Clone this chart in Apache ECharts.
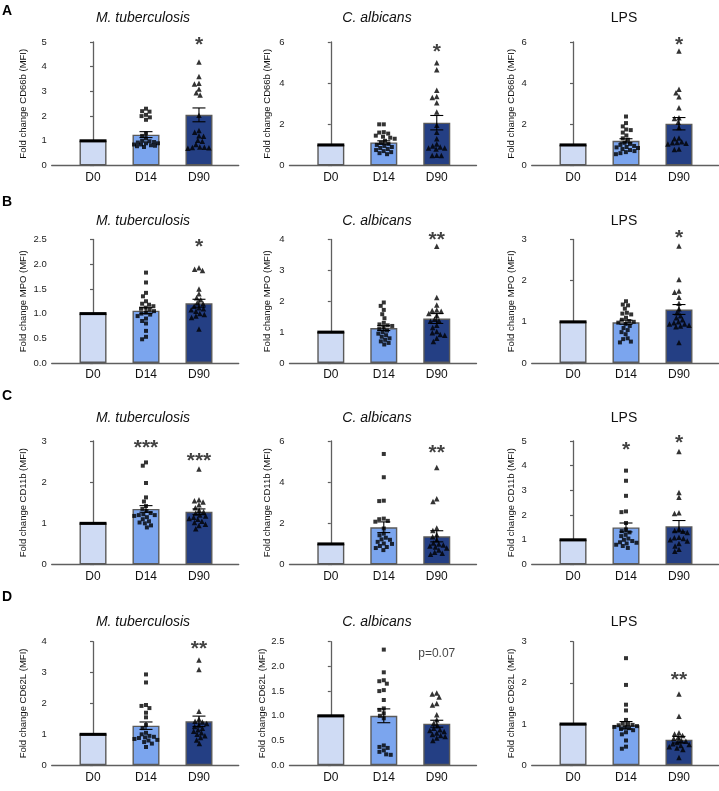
<!DOCTYPE html>
<html><head><meta charset="utf-8">
<script src="https://cdn.jsdelivr.net/npm/echarts@6/dist/echarts.min.js"></script>
<style>html,body{margin:0;padding:0;background:#fff}#c{width:719px;height:791px}</style>
</head><body><div id="c"></div>
<script>
// ---------- DATA ----------
const groups = ['D0', 'D14', 'D90'];
const pathogens = ['M. tuberculosis', 'C. albicans', 'LPS'];
const markers = ['CD66b', 'MPO', 'CD11b', 'CD62L'];
const panelLetters = ['A', 'B', 'C', 'D'];
const yMaxByRow = [[5, 6, 6], [2.5, 4, 3], [3, 6, 5], [4, 2.5, 3]];
const yStepByRow = [[1, 2, 2], [0.5, 1, 1], [1, 2, 1], [1, 0.5, 1]];

// bar heights (mean) and SEM per pathogen: [D0, D14, D90]
const mean_CD66b = [[1, 1.25, 2.05], [1, 1.12, 2.08], [1, 1.2, 2.03]];
const sem_CD66b  = [[0, 0.12, 0.28], [0, 0.08, 0.35], [0, 0.1, 0.3]];
const mean_MPO   = [[1, 1.06, 1.21], [1, 1.13, 1.44], [1, 0.99, 1.3]];
const sem_MPO    = [[0, 0.06, 0.08], [0, 0.08, 0.16], [0, 0.05, 0.12]];
const mean_CD11b = [[1, 1.35, 1.28], [1, 1.81, 1.37], [1, 1.5, 1.55]];
const sem_CD11b  = [[0, 0.08, 0.07], [0, 0.26, 0.27], [0, 0.18, 0.23]];
const mean_CD62L = [[1, 1.28, 1.42], [1, 1.0, 0.84], [1, 0.97, 0.62]];
const sem_CD62L  = [[0, 0.12, 0.17], [0, 0.14, 0.07], [0, 0.09, 0.08]];

// individual donors (D0 are all 1.0 by normalisation)
const cd66b_mtb_D14 = [2.3,2.2,2.18,2.05,2.0,1.95,1.85,1.3,1.2,1.1,1.0,0.98,0.95,0.93,0.9,0.9,0.85,0.85,0.82,0.8,0.78,0.75];
const cd66b_mtb_D90 = [4.19,3.6,3.33,3.3,3.1,2.95,2.85,2.03,1.42,1.35,1.2,1.18,1.02,0.98,0.85,0.75,0.74,0.73,0.72,0.7];
const cd66b_cal_D14 = [2.0,2.0,1.62,1.6,1.55,1.45,1.4,1.35,1.3,1.2,1.1,1.05,1.0,0.95,0.9,0.85,0.8,0.75,0.7,0.65,0.6,0.55];
const cd66b_cal_D90 = [4.99,4.65,3.65,3.35,3.3,3.05,2.6,1.95,1.62,1.3,1.05,0.95,0.9,0.85,0.85,0.8,0.5,0.49,0.48];
const cd66b_lps_D14 = [2.38,2.06,1.9,1.75,1.72,1.6,1.46,1.32,1.25,1.1,1.05,1.0,0.95,0.9,0.88,0.85,0.8,0.75,0.7,0.65,0.6,0.55];
const cd66b_lps_D90 = [5.56,3.7,3.53,3.34,2.8,2.32,2.28,2.1,1.85,1.33,1.3,1.15,1.12,1.1,1.08,1.05,0.8,0.78];

const mpo_mtb_D14 = [1.83,1.63,1.42,1.35,1.25,1.2,1.18,1.15,1.12,1.1,1.08,1.05,1.02,1.0,0.98,0.95,0.9,0.85,0.8,0.65,0.53,0.48];
const mpo_mtb_D90 = [1.93,1.9,1.87,1.5,1.4,1.32,1.28,1.22,1.2,1.15,1.12,1.1,1.08,1.05,1.0,0.98,0.95,0.92,0.69];
const mpo_cal_D14 = [1.96,1.85,1.72,1.58,1.45,1.3,1.25,1.22,1.2,1.15,1.1,1.05,1.0,0.95,0.9,0.85,0.8,0.75,0.7,0.65,0.6];
const mpo_cal_D90 = [3.78,2.12,1.88,1.72,1.7,1.68,1.6,1.55,1.42,1.38,1.35,1.22,1.15,1.02,0.98,0.92,0.9,0.8,0.7];
const mpo_lps_D14 = [1.5,1.42,1.4,1.32,1.22,1.2,1.18,1.1,1.05,1.02,1.0,0.98,0.95,0.9,0.85,0.8,0.75,0.7,0.6,0.58,0.52,0.5];
const mpo_lps_D90 = [2.84,2.03,1.75,1.72,1.6,1.45,1.32,1.22,1.15,1.1,1.05,1.0,0.98,0.95,0.95,0.92,0.9,0.88,0.5];

const cd11b_mtb_D14 = [2.48,2.4,1.98,1.63,1.53,1.42,1.35,1.3,1.25,1.22,1.2,1.2,1.18,1.15,1.1,1.05,1.02,1.0,0.95,0.9];
const cd11b_mtb_D90 = [2.32,1.57,1.55,1.52,1.45,1.38,1.32,1.28,1.25,1.2,1.18,1.15,1.12,1.1,1.05,1.02,0.98,0.95,0.87];
const cd11b_cal_D14 = [5.37,4.24,3.1,3.08,2.23,2.2,2.12,2.08,1.75,1.5,1.42,1.3,1.22,1.2,1.1,1.02,1.0,0.9,0.85,0.8,0.7];
const cd11b_cal_D90 = [4.71,3.19,3.06,1.77,1.65,1.45,1.35,1.2,1.05,1.0,0.95,0.9,0.85,0.8,0.7,0.6,0.55,0.5];
const cd11b_lps_D14 = [3.8,3.39,2.78,2.15,2.12,1.68,1.42,1.35,1.3,1.2,1.15,1.05,1.0,0.95,0.9,0.88,0.85,0.8,0.75,0.67];
const cd11b_lps_D90 = [4.57,2.92,2.72,2.1,2.06,1.45,1.38,1.35,1.3,1.1,1.08,1.05,1.0,0.95,0.85,0.75,0.62,0.54];

const cd62l_mtb_D14 = [2.94,2.68,1.95,1.92,1.85,1.7,1.55,1.3,1.2,1.05,1.0,0.95,0.92,0.9,0.88,0.85,0.82,0.8,0.75,0.7,0.59];
const cd62l_mtb_D90 = [3.41,3.1,1.75,1.5,1.42,1.4,1.35,1.3,1.25,1.2,1.15,1.1,1.05,1.0,0.95,0.9,0.82,0.7];
const cd62l_cal_D14 = [2.34,1.88,1.72,1.7,1.65,1.52,1.5,1.32,1.15,1.12,1.05,1.0,0.95,0.4,0.37,0.35,0.3,0.27,0.22,0.21];
const cd62l_cal_D90 = [1.46,1.44,1.38,1.25,1.22,1.02,0.92,0.85,0.8,0.75,0.72,0.7,0.68,0.65,0.62,0.6,0.58,0.55,0.5];
const cd62l_lps_D14 = [2.6,1.95,1.47,1.33,1.1,1.02,1.0,0.98,0.97,0.95,0.93,0.92,0.9,0.88,0.85,0.8,0.75,0.6,0.45,0.4];
const cd62l_lps_D90 = [1.73,1.19,0.79,0.76,0.72,0.68,0.65,0.6,0.58,0.55,0.52,0.5,0.48,0.45,0.42,0.38,0.19];

// significance labels [pathogen][group] and the value at which each sits
const sigText_CD66b = [['', '', '*'], ['', '', '*'], ['', '', '*']];
const sigY_CD66b    = [[0, 0, 5.07], [0, 0, 5.75], [0, 0, 6.11]];
const sigText_MPO   = [['', '', '*'], ['', '', '**'], ['', '', '*']];
const sigY_MPO      = [[0, 0, 2.45], [0, 0, 4.14], [0, 0, 3.15]];
const sigText_CD11b = [['', '***', '***'], ['', '', '**'], ['', '*', '*']];
const sigY_CD11b    = [[0, 2.94, 2.64], [0, 0, 5.65], [0, 4.81, 5.1]];
const sigText_CD62L = [['', '', '**'], ['', '', 'p=0.07'], ['', '', '**']];
const sigY_CD62L    = [[0, 0, 3.91], [0, 0, 2.26], [0, 0, 2.19]];

// ---------- ASSEMBLY ----------
const rows = [
  { mean: mean_CD66b, sem: sem_CD66b, sigT: sigText_CD66b, sigY: sigY_CD66b,
    pts: [[cd66b_mtb_D14, cd66b_mtb_D90], [cd66b_cal_D14, cd66b_cal_D90], [cd66b_lps_D14, cd66b_lps_D90]] },
  { mean: mean_MPO, sem: sem_MPO, sigT: sigText_MPO, sigY: sigY_MPO,
    pts: [[mpo_mtb_D14, mpo_mtb_D90], [mpo_cal_D14, mpo_cal_D90], [mpo_lps_D14, mpo_lps_D90]] },
  { mean: mean_CD11b, sem: sem_CD11b, sigT: sigText_CD11b, sigY: sigY_CD11b,
    pts: [[cd11b_mtb_D14, cd11b_mtb_D90], [cd11b_cal_D14, cd11b_cal_D90], [cd11b_lps_D14, cd11b_lps_D90]] },
  { mean: mean_CD62L, sem: sem_CD62L, sigT: sigText_CD62L, sigY: sigY_CD62L,
    pts: [[cd62l_mtb_D14, cd62l_mtb_D90], [cd62l_cal_D14, cd62l_cal_D90], [cd62l_lps_D14, cd62l_lps_D90]] }
];

const FONT = '"Liberation Sans", Arial, Helvetica, sans-serif';
const LEFT = [51.7, 289.5, 531.7];
const TOP = [42, 239.5, 441, 641.7];
const GW = 187, GH = 123.5, XMIN = -0.78, XMAX = 2.75;
const TITLE_X = [143, 377, 624];
const TITLE_Y = [18.3, 220.7, 418.3, 621.7];
const LETTER_Y = [12.5, 203, 397, 598];
const NAME_GAP = [23, 17, 15.5];
const BAR_COLORS = ['#cfdbf4', '#7ba5ee', '#243f84'];
const AXIS_COLOR = '#5f5f5f';
const BAR_W = 27;

// deterministic beeswarm offsets (in x-axis units), limited to the bar width
function swarm(values, pxX, pxY, d, maxHalf) {
  const order = values.map((v, i) => i).sort((a, b) => values[b] - values[a]);
  const placed = [], out = [];
  for (const i of order) {
    const y = values[i] * pxY;
    const cands = [0];
    for (const p of placed) {
      const dy = Math.abs(p.y - y);
      if (dy < d) { const dx = Math.sqrt(d * d - dy * dy); cands.push(p.x + dx, p.x - dx); }
    }
    cands.sort((a, b) => Math.abs(a) - Math.abs(b) || a - b);
    let xx = null;
    for (const cx of cands) {
      if (Math.abs(cx) > maxHalf) continue;
      if (placed.every(p => (p.x - cx) ** 2 + (p.y - y) ** 2 >= d * d - 1e-6)) { xx = cx; break; }
    }
    if (xx === null) {
      let best = 0, bestScore = -1;
      for (let cx = -maxHalf; cx <= maxHalf; cx += 1) {
        const m = Math.min(...placed.map(p => (p.x - cx) ** 2 + (p.y - y) ** 2));
        if (m > bestScore) { bestScore = m; best = cx; }
      }
      xx = best;
    }
    placed.push({ x: xx, y });
    out[i] = xx / pxX;
  }
  return out;
}

const grid = [], xAxis = [], yAxis = [], series = [], graphic = [];
const pxX = GW / (XMAX - XMIN);

rows.forEach((row, r) => {
  graphic.push({ type: 'text', left: 2, top: LETTER_Y[r] - 8,
    style: { text: panelLetters[r], font: 'bold 14px ' + FONT, fill: '#000' } });
  for (let c = 0; c < 3; c++) {
    const k = r * 3 + c;
    const yMax = yMaxByRow[r][c], step = yStepByRow[r][c];
    grid.push({ left: LEFT[c], top: TOP[r], width: GW, height: GH });
    xAxis.push({
      type: 'value', gridIndex: k, min: XMIN, max: XMAX,
      splitLine: { show: false },
      axisLine: { show: true, onZero: false, lineStyle: { color: AXIS_COLOR, width: 1.3 } },
      axisTick: { show: false },
      axisLabel: { customValues: [0, 1, 2], formatter: v => groups[Math.round(v)],
        fontSize: 12, fontFamily: FONT, color: '#111', margin: 6 }
    });
    yAxis.push({
      type: 'value', gridIndex: k, min: 0, max: yMax, interval: step,
      splitLine: { show: false },
      axisLine: { show: true, lineStyle: { color: AXIS_COLOR, width: 1.3 } },
      axisTick: { show: true, length: 3, lineStyle: { color: AXIS_COLOR, width: 1.2 } },
      axisLabel: { fontSize: 9.5, fontFamily: FONT, color: '#222', margin: 5,
        formatter: v => step < 1 ? v.toFixed(1) : String(v) },
      name: 'Fold change ' + markers[r] + ' (MFI)', nameLocation: 'middle', nameRotate: 90,
      nameGap: NAME_GAP[c], nameTextStyle: { fontSize: 9.5, fontFamily: FONT, color: '#111' }
    });
    graphic.push({ type: 'text', x: TITLE_X[c], y: TITLE_Y[r],
      style: { text: pathogens[c], font: (c < 2 ? 'italic ' : '') + '14px ' + FONT,
        fill: '#111', align: 'center', verticalAlign: 'middle' } });

    const mean = row.mean[c], sem = row.sem[c];
    series.push({
      type: 'bar', xAxisIndex: k, yAxisIndex: k, barWidth: BAR_W, silent: true, z: 2,
      itemStyle: { borderColor: '#5a5a5a', borderWidth: 1.4 },
      data: mean.map((m, i) => ({ value: [i, m], itemStyle: { color: BAR_COLORS[i] } }))
    });
    // SEM whiskers; D0 donors all equal 1 -> drawn as a solid line of stacked points across the bar
    series.push({
      type: 'custom', xAxisIndex: k, yAxisIndex: k, silent: true, z: 3, clip: false,
      data: mean.map((m, i) => [i, m, sem[i]]),
      renderItem: (p, api) => {
        const x = api.value(0), m = api.value(1), s = api.value(2);
        const cm = api.coord([x, m]);
        if (s === 0) {
          return { type: 'rect', shape: { x: cm[0] - BAR_W / 2, y: cm[1] - 1.5, width: BAR_W, height: 3 },
            style: { fill: '#000' } };
        }
        const t = api.coord([x, m + s]), b = api.coord([x, m - s]);
        const hw = 6.5, st = { stroke: '#000', lineWidth: 1.1 };
        return { type: 'group', children: [
          { type: 'line', shape: { x1: t[0], y1: t[1], x2: b[0], y2: b[1] }, style: st },
          { type: 'line', shape: { x1: t[0] - hw, y1: t[1], x2: t[0] + hw, y2: t[1] }, style: st },
          { type: 'line', shape: { x1: b[0] - hw, y1: b[1], x2: b[0] + hw, y2: b[1] }, style: st }
        ] };
      }
    });
    const pxY = GH / yMax;
    [1, 2].forEach(g => {
      const vals = row.pts[c][g - 1];
      const offs = swarm(vals, pxX, pxY, 4.6, 12);
      series.push({
        type: 'scatter', xAxisIndex: k, yAxisIndex: k, silent: true, z: 4, clip: false,
        symbol: g === 1 ? 'rect' : 'triangle', symbolSize: g === 1 ? 4 : 5.5,
        itemStyle: { color: '#000' },
        data: vals.map((v, i) => [g + offs[i], v])
      });
    });
    const ann = [];
    row.sigT[c].forEach((t, g) => {
      if (!t) return;
      const star = t.indexOf('*') === 0;
      ann.push({ value: [g, row.sigY[c][g]], label: { show: true, formatter: t,
        fontSize: star ? 21 : 12, fontWeight: star ? 'bold' : 'normal', fontFamily: FONT,
        color: '#111', offset: star ? [0, 5] : [0, 0] } });
    });
    series.push({
      type: 'scatter', xAxisIndex: k, yAxisIndex: k, silent: true, z: 5, clip: false,
      symbolSize: 0, label: { show: true, position: 'inside' }, data: ann
    });
  }
});

const chart = echarts.init(document.getElementById('c'), null, { renderer: 'canvas' });
chart.setOption({ animation: false, backgroundColor: '#fff', grid, xAxis, yAxis, series, graphic });
</script></body></html>
